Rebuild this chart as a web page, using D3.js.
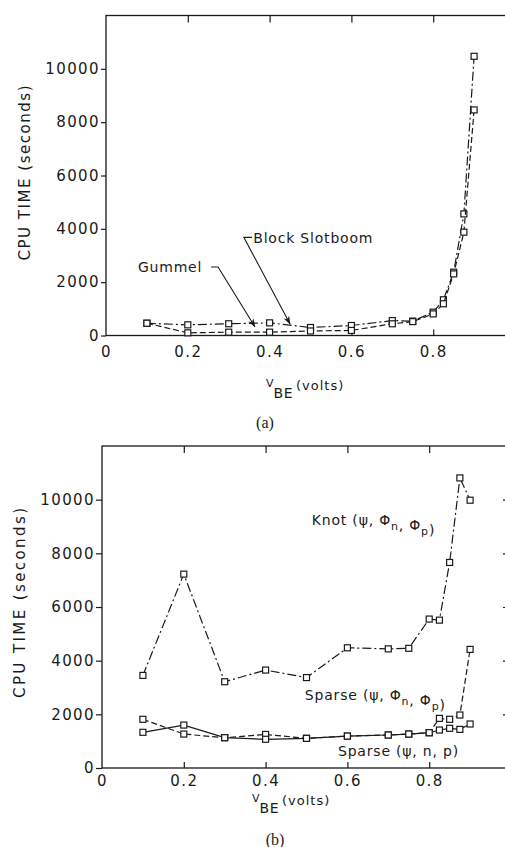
<!DOCTYPE html>
<html>
<head>
<meta charset="utf-8">
<script src="https://cdn.jsdelivr.net/npm/d3@7"></script>
<style>
  body { margin: 0; background: #fff; }
  svg text { fill: #1a1a1a; }
</style>
</head>
<body>
<svg id="chart" width="505" height="847"></svg>
<script>
// V_BE sample points (volts)
const vbe = [0.1, 0.2, 0.3, 0.4, 0.5, 0.6, 0.7, 0.75, 0.8, 0.825, 0.85, 0.875, 0.9];

// (a) CPU time in seconds
const gummel        = [460, 100, 125, 125, 170, 190, 440, 520, 810, 1190, 2310, 3875, 8460];
const blockSlotboom = [460, 400, 440, 475, 300, 375, 560, 540, 875, 1340, 2375, 4560, 10470];

// (b) CPU time in seconds
const knot      = [3450, 7225, 3215, 3650, 3370, 4480, 4440, 4460, 5550, 5510, 7660, 10810, 9980];
const sparsePhi = [1815, 1265, 1130, 1250, 1105, 1190, 1230, 1265, 1315, 1850, 1815, 1975, 4420];
const sparseNP  = [1330, 1600, 1130, 1070, 1105, 1190, 1230, 1265, 1315, 1415, 1480, 1440, 1640];

const yTicks = [0, 2000, 4000, 6000, 8000, 10000];
const xTicks = [0.2, 0.4, 0.6, 0.8];
const xLabels = [0, 0.2, 0.4, 0.6, 0.8];

const DASHDOT = '9,3,2,3';
const DASHED = '6,3';

const svg = d3.select('#chart');

svg.append('defs').append('marker')
    .attr('id', 'arrow')
    .attr('viewBox', '0 0 10 10')
    .attr('refX', 9).attr('refY', 5)
    .attr('markerWidth', 8).attr('markerHeight', 8)
    .attr('orient', 'auto')
  .append('path')
    .attr('d', 'M0,1.5 L10,5 L0,8.5 L3,5 Z')
    .attr('fill', '#1a1a1a');

function drawPanel(p) {
  const x = d3.scaleLinear().domain([0, 1]).range([p.left, p.left + 409]);
  const y = d3.scaleLinear().domain([0, 12000]).range([p.bottom, p.top]);
  const g = svg.append('g');

  // frame
  g.append('rect')
      .attr('x', p.left).attr('y', p.top)
      .attr('width', 409).attr('height', p.bottom - p.top)
      .attr('fill', 'none').attr('stroke', '#1a1a1a').attr('stroke-width', 1.3);

  const styleAxis = a => {
    a.select('.domain').remove();
    a.selectAll('line').attr('stroke', '#1a1a1a').attr('stroke-width', 1.2);
    a.selectAll('text')
        .attr('font-family', '"DejaVu Sans", sans-serif')
        .attr('font-size', 15)
        .attr('letter-spacing', 1.4);
  };

  g.append('g')
      .attr('transform', `translate(${p.left},0)`)
      .call(d3.axisLeft(y).tickValues(yTicks).tickSize(p.ytick).tickPadding(1).tickFormat(d3.format('d')))
      .call(styleAxis);

  g.append('g')
      .attr('transform', `translate(0,${p.bottom})`)
      .call(d3.axisBottom(x).tickValues(xLabels).tickSize(-6).tickPadding(p.xpad).tickFormat(d => d))
      .call(styleAxis)
      .call(a => a.selectAll('.tick').filter(d => d === 0).select('line').remove());

  g.append('g')
      .attr('transform', `translate(0,${p.top})`)
      .call(d3.axisTop(x).tickValues(xTicks).tickSize(-7).tickFormat(''))
      .call(styleAxis);

  g.append('g')
      .attr('transform', `translate(${p.left + 409},0)`)
      .call(d3.axisRight(y).tickValues(yTicks.slice(1)).tickSize(-8).tickFormat(''))
      .call(styleAxis);

  // series
  const line = d3.line().x((d, i) => x(vbe[i])).y(d => y(d));
  p.series.forEach(s => {
    g.append('path')
        .attr('d', line(s.values))
        .attr('fill', 'none')
        .attr('stroke', '#1a1a1a')
        .attr('stroke-width', 1.2)
        .attr('stroke-dasharray', s.dash);
    g.selectAll(null)
      .data(s.values)
      .join('rect')
        .attr('x', (d, i) => x(vbe[i]) - 3)
        .attr('y', d => y(d) - 3)
        .attr('width', 6).attr('height', 6)
        .attr('fill', '#fff')
        .attr('stroke', '#1a1a1a')
        .attr('stroke-width', 1.2);
  });

  // y title
  g.append('text')
      .attr('transform', `translate(${p.ytitleX},${p.ytitleY}) rotate(-90)`)
      .attr('text-anchor', 'middle')
      .attr('font-family', '"DejaVu Sans", sans-serif')
      .attr('font-size', 15)
      .attr('textLength', p.ytitleLen)
      .attr('lengthAdjust', 'spacing')
      .text('CPU TIME (seconds)');

  // x title: V_BE (volts), V sits above the BE subscript
  const xt = g.append('text')
      .attr('x', p.vX).attr('y', p.vY)
      .attr('font-family', '"DejaVu Sans", sans-serif');
  xt.append('tspan').attr('font-size', 11).text('V');
  xt.append('tspan').attr('dx', 0).attr('dy', 11).attr('font-size', 14).attr('letter-spacing', 0.5).text('BE');
  xt.append('tspan').attr('dx', 3).attr('dy', -8).attr('font-size', 13).attr('letter-spacing', 1).text('(volts)');

  // caption
  g.append('text')
      .attr('x', p.capX).attr('y', p.capY)
      .attr('text-anchor', 'middle')
      .attr('font-family', '"Liberation Serif", serif')
      .attr('font-size', 16)
      .text(p.caption);

  // labels
  p.labels.forEach(l => {
    const t = g.append('text')
        .attr('x', x(l.x)).attr('y', y(l.y))
        .attr('font-family', '"DejaVu Sans", sans-serif')
        .attr('font-size', 14)
        .attr('letter-spacing', 0.8);
    l.parts.forEach(part => {
      if (part.sub) {
        t.append('tspan').attr('dy', 5).attr('font-size', 11).text(part.sub);
        t.append('tspan').attr('dy', -5).text('');
      } else {
        t.append('tspan').text(part.t);
      }
    });
  });

  // arrows
  (p.arrows || []).forEach(a => {
    g.append('path')
        .attr('d', d3.line().x(d => x(d[0])).y(d => y(d[1]))(a))
        .attr('fill', 'none')
        .attr('stroke', '#1a1a1a')
        .attr('stroke-width', 1.1)
        .attr('marker-end', 'url(#arrow)');
  });
}

drawPanel({
  left: 106, top: 15.5, bottom: 335.5, ytick: 5, xpad: 11,
  ytitleX: 30, ytitleY: 173, ytitleLen: 175,
  vX: 266, vY: 387,
  capX: 265, capY: 428, caption: '(a)',
  series: [
    { values: blockSlotboom, dash: DASHDOT },
    { values: gummel, dash: DASHED }
  ],
  labels: [
    { x: 0.078, y: 2380, parts: [{ t: 'Gummel' }] },
    { x: 0.36, y: 3470, parts: [{ t: 'Block Slotboom' }] }
  ],
  arrows: [
    [[0.257, 2570], [0.274, 2570], [0.364, 330]],
    [[0.357, 3680], [0.337, 3680], [0.45, 430]]
  ]
});

drawPanel({
  left: 102, top: 446, bottom: 768, ytick: 6, xpad: 7,
  ytitleX: 25, ytitleY: 603, ytitleLen: 190,
  vX: 252, vY: 802,
  capX: 275, capY: 845, caption: '(b)',
  series: [
    { values: knot, dash: DASHDOT },
    { values: sparsePhi, dash: DASHED },
    { values: sparseNP, dash: null }
  ],
  labels: [
    { x: 0.513, y: 9050, parts: [{ t: 'Knot (ψ, Φ' }, { sub: 'n' }, { t: ', Φ' }, { sub: 'p' }, { t: ')' }] },
    { x: 0.496, y: 2530, parts: [{ t: 'Sparse (ψ, Φ' }, { sub: 'n' }, { t: ', Φ' }, { sub: 'p' }, { t: ')' }] },
    { x: 0.577, y: 445, parts: [{ t: 'Sparse (ψ, n, p)' }] }
  ]
});
</script>
</body>
</html>
